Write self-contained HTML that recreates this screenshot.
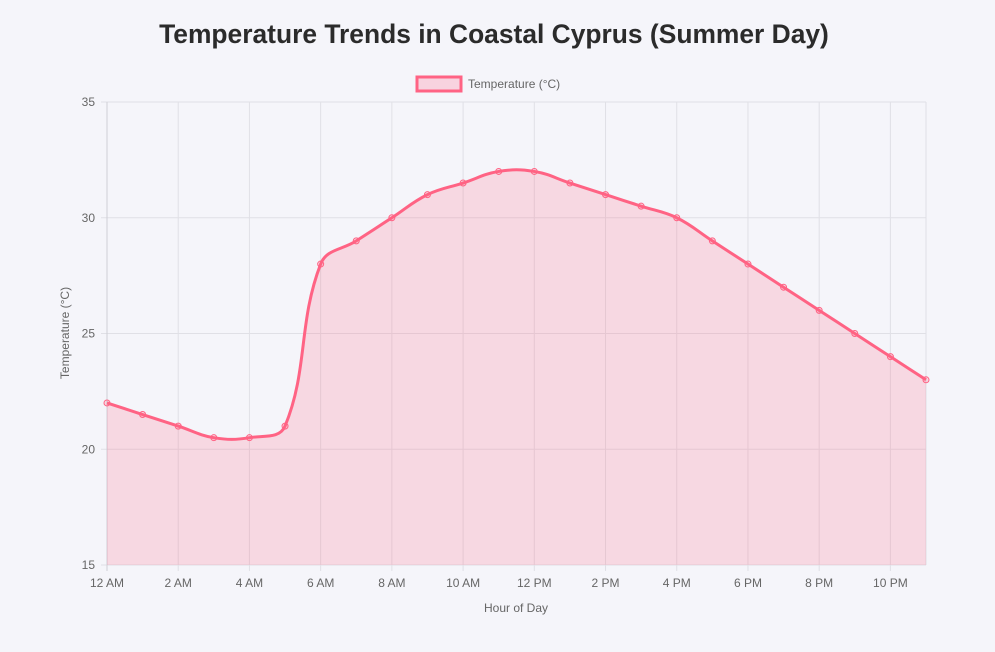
<!DOCTYPE html>
<html><head><meta charset="utf-8"><style>
html,body{margin:0;padding:0;background:#f5f5fa;}
body{width:995px;height:647px;overflow:hidden;font-family:"Liberation Sans",sans-serif;}
</style></head><body>
<svg id="c" width="995" height="647" xmlns="http://www.w3.org/2000/svg" font-family="Liberation Sans, sans-serif">
<text x="494" y="43" text-anchor="middle" font-size="26.4" font-weight="bold" fill="#2b2b2b">Temperature Trends in Coastal Cyprus (Summer Day)</text>
<rect x="417" y="77" width="44" height="14" fill="#f8d3df" stroke="#ff6384" stroke-width="3"/>
<text x="468" y="88" font-size="12" fill="#666">Temperature (°C)</text>
<g id="grid"></g>
<path id="area" fill="rgba(255,99,132,0.2)" stroke="none"/>
<path id="line" fill="none" stroke="#ff6384" stroke-width="3"/>
<g id="pts"></g>
<text transform="translate(69,333) rotate(-90)" text-anchor="middle" font-size="12" fill="#666">Temperature (°C)</text>
<text x="516" y="612" text-anchor="middle" font-size="12" fill="#666">Hour of Day</text>
</svg>
<script>
var d=[22,21.5,21,20.5,20.5,21,28,29,30,31,31.5,32,32,31.5,31,30.5,30,29,28,27,26,25,24,23];
var x0=107,x1=926,yt=102,yb=565;
function X(i){return x0+(x1-x0)*i/23}
function Y(v){return yb-(v-15)*(yb-yt)/20}
var g='',ns='';
for(var v=15;v<=35;v+=5){var y=Y(v);g+='<line x1="'+(x0-6)+'" x2="'+x1+'" y1="'+y+'" y2="'+y+'" stroke="#e0e0e6"/>';g+='<text x="'+(x0-12)+'" y="'+(y+4)+'" text-anchor="end" font-size="12" fill="#666">'+v+'</text>';}
var lab=['12 AM','2 AM','4 AM','6 AM','8 AM','10 AM','12 PM','2 PM','4 PM','6 PM','8 PM','10 PM'];
for(var i=0;i<24;i+=2){var x=X(i);g+='<line x1="'+x+'" x2="'+x+'" y1="'+yt+'" y2="'+(yb+6)+'" stroke="'+(i==0?'#cfcfd6':'#e0e0e6')+'"/>';g+='<text x="'+x+'" y="'+(yb+22)+'" text-anchor="middle" font-size="12" fill="#666">'+lab[i/2]+'</text>';}
g+='<line x1="'+x1+'" x2="'+x1+'" y1="'+yt+'" y2="'+yb+'" stroke="#e0e0e6"/>';
document.getElementById('grid').innerHTML=g;
var P=d.map(function(v,i){return [X(i),Y(v)]});
var t=0.4,cp=[];
for(var i=0;i<P.length;i++){var p=P[i-1]||P[i],c=P[i],n=P[i+1]||P[i];
var d01=Math.hypot(c[0]-p[0],c[1]-p[1]),d12=Math.hypot(n[0]-c[0],n[1]-c[1]);
var s01=d01/(d01+d12)||0,s12=d12/(d01+d12)||0;var fa=t*s01,fb=t*s12;
cp.push([[c[0]-fa*(n[0]-p[0]),c[1]-fa*(n[1]-p[1])],[c[0]+fb*(n[0]-p[0]),c[1]+fb*(n[1]-p[1])]]);}
var s='M'+P[0][0]+','+P[0][1];
for(var i=1;i<P.length;i++){s+=' C'+cp[i-1][1][0]+','+cp[i-1][1][1]+' '+cp[i][0][0]+','+cp[i][0][1]+' '+P[i][0]+','+P[i][1];}
document.getElementById('line').setAttribute('d',s);
document.getElementById('area').setAttribute('d',s+' L'+x1+','+yb+' L'+x0+','+yb+' Z');
P.forEach(function(p){ns+='<circle cx="'+p[0]+'" cy="'+p[1]+'" r="3" fill="rgba(255,99,132,0.2)" stroke="#ff6384" stroke-width="1"/>';});
document.getElementById('pts').innerHTML=ns;
</script>
</body></html>
